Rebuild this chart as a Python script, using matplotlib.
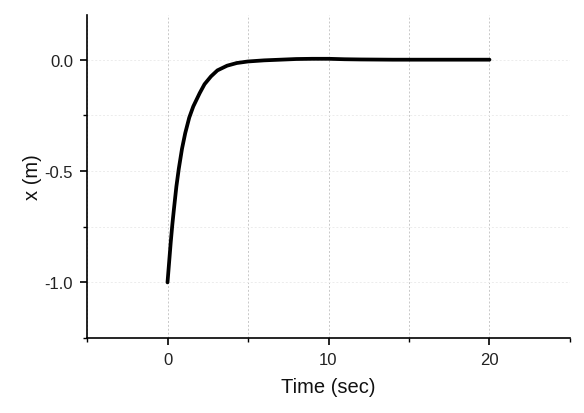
import matplotlib
matplotlib.use("Agg")
import matplotlib.pyplot as plt
from matplotlib.ticker import MultipleLocator

plt.rcParams['font.family'] = ['Liberation Sans', 'DejaVu Sans']

time_s = [0.0, 0.1, 0.2, 0.3, 0.4, 0.55, 0.7, 0.9, 1.1, 1.35, 1.6, 2.0, 2.3, 2.7,
          3.1, 3.7, 4.3, 5.0, 6.0, 7.0, 8.0, 9.0, 10.0, 11.0, 12.0, 14.0, 17.0, 20.0]
x_m = [-1.0, -0.91, -0.82, -0.74, -0.67, -0.57, -0.49, -0.40, -0.33, -0.26, -0.21,
       -0.15, -0.11, -0.075, -0.048, -0.027, -0.015, -0.008, -0.003, 0.0, 0.003,
       0.004, 0.004, 0.002, 0.001, 0.0, 0.0, 0.0]

x_ticks = [0, 10, 20]
y_ticks = [-1.0, -0.5, 0.0]
y_tick_labels = ['-1.0', '-0.5', '0.0']

fig = plt.figure(figsize=(5.84, 4.14), dpi=100)
ax = fig.add_axes([0.149, 0.181, 0.827, 0.78])

ax.plot(time_s, x_m, color='black', lw=2.7, solid_capstyle='round', solid_joinstyle='round')

ax.set_xlim(-5, 25)
ax.set_ylim(-1.25, 0.2)
ax.set_xticks(x_ticks)
ax.set_yticks(y_ticks)
ax.set_yticklabels(y_tick_labels)
ax.xaxis.set_minor_locator(MultipleLocator(5))
ax.yaxis.set_minor_locator(MultipleLocator(0.25))

ax.spines['top'].set_visible(False)
ax.spines['right'].set_visible(False)
for s in ['left', 'bottom']:
    ax.spines[s].set_linewidth(1.2)

ax.tick_params(which='major', direction='out', length=5, width=1.2, labelsize=12,
               pad=5, labelcolor='#222222')
ax.tick_params(which='minor', direction='out', length=3, width=1.0)

ax.grid(True, which='both', axis='x', color='#c8c8c8', linestyle=(0, (2, 2)), linewidth=0.7)
ax.grid(True, which='both', axis='y', color='#ececec', linestyle=(0, (2, 2)), linewidth=0.7)

ax.set_xlabel('Time (sec)', fontsize=14.5, labelpad=7, color='#111111')
ax.set_ylabel('x (m)', fontsize=14.5, labelpad=2, color='#111111')

fig.savefig('out.png', dpi=100)
